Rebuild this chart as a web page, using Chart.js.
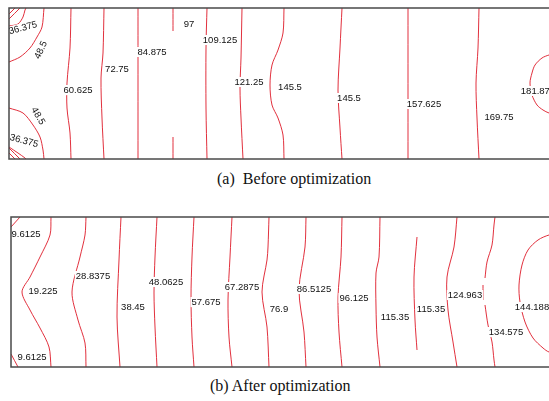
<!DOCTYPE html>
<html>
<head>
<meta charset="utf-8">
<script src="https://cdn.jsdelivr.net/npm/chart.js@4.4.1/dist/chart.umd.min.js"></script>
<style>
  html, body { margin: 0; padding: 0; background: #fff; overflow: hidden; width: 549px; height: 401px; }
  canvas { position: absolute; }
  #chartA { left: 4px; top: 3px; }
  #chartB { left: 6px; top: 212px; }
  .cap { position: absolute; font-family: "Liberation Serif", serif; font-size: 16px; line-height: 18px; color: #111; white-space: pre; }
</style>
</head>
<body>
<canvas id="chartA" width="570" height="161"></canvas>
<canvas id="chartB" width="570" height="160"></canvas>
<div class="cap" style="left:217px; top:170px;">(a)  Before optimization</div>
<div class="cap" style="left:210px; top:377px;">(b) After optimization</div>
<script>
// panel (a) before optimization: contour lines, x along length, y down from top edge
const linesA = [
  [[0,11],[11,0]],
  [[0,6],[6,0]],
  [[0,140],[11,151]],
  [[0,145],[6,151]],
  [[0,18],[9,16],[14,9],[16,2],[17,0]],
  [[0,139],[9,145],[16,150],[17,151]],
  [[35,0],[33,19],[28,29],[21,40],[11,49],[0,54]],
  [[0,100],[14,105],[24,117],[31,129],[34,142],[35,151]],
  [[62,0],[61,40],[58,75],[58,100],[61,125],[62,151]],
  [[95,0],[94,45],[92,70],[93,110],[95,151]],
  [[129,0],[129,75],[129,151]],
  [[164,0],[164,23]],
  [[164,129],[164,151]],
  [[198,0],[197,40],[197,100],[198,151]],
  [[233,0],[232,50],[231,80],[232,110],[234,151]],
  [[275,0],[274,25],[269,42],[263,57],[261,77],[263,97],[269,110],[274,127],[275,151]],
  [[333,0],[331,40],[329,82],[331,120],[333,151]],
  [[399,0],[399,151]],
  [[470,0],[469,40],[467,75],[468,110],[470,151]],
  [[552,44],[540,47],[533,50],[526,57],[523,65],[521,75],[523,87],[528,97],[534,102],[540,105],[552,108]]
];
const labelTextA = ['36.375', '36.375', '48.5', '48.5', '60.625', '72.75', '84.875', '97', '109.125', '121.25', '145.5', '145.5', '157.625', '169.75', '181.875'];
const labelAtA = [[14,20],[15,133],[32,42],[29,108],[69,82],[108,61],[143,44],[180,16],[211,32],[240,74],[281,79],[340,90],[415,96],[490,109],[529,83]];
const labelRotA = [-15, 15, -65, 60, 0, 0, 0, 0, 0, 0, 0, 0, 0, 0, 0];

// panel (b) after optimization
const linesB = [
  [[0,10],[9,0]],
  [[0,137],[7,150]],
  [[40,0],[39,18],[29,40],[19,60],[11,75],[19,93],[29,111],[38,130],[40,150]],
  [[75,0],[74,18],[69,40],[61,75],[67,103],[74,126],[75,150]],
  [[110,0],[108,43],[106,100],[109,150]],
  [[146,0],[144,40],[143,76],[144,110],[146,150]],
  [[183,0],[181,40],[180,81],[181,120],[183,150]],
  [[221,0],[219,40],[217,83],[218,120],[221,150]],
  [[258,0],[257,30],[256,43],[251,75],[256,110],[258,150]],
  [[295,0],[294,30],[288,73],[293,115],[295,150]],
  [[331,0],[330,40],[327,80],[328,115],[331,150]],
  [[369,0],[368,40],[365,56],[365,90],[366,120],[369,150]],
  [[406,20],[403,60],[404,103],[406,133]],
  [[446,0],[443,30],[436,60],[437,93],[442,125],[446,150]],
  [[484,0],[483,8],[481,28],[476,45],[474,61]],
  [[472,68],[472,83]],
  [[474,88],[477,108],[481,125],[483,143],[484,150]],
  [[550,16],[538,18],[527,23],[517,33],[511,48],[508,68],[509,85],[514,105],[522,121],[532,131],[538,135],[550,137]]
];
const labelTextB = ['9.6125', '9.6125', '19.225', '28.8375', '38.45', '48.0625', '57.675', '67.2875', '76.9', '86.5125', '96.125', '115.35', '115.35', '124.963', '134.575', '144.188'];
const labelAtB = [[15,17],[21,140],[32,74],[82,59],[122,90],[155,65],[195,85],[231,70],[268,92],[303,72],[343,81],[384,100],[420,92],[454,78],[495,115],[521,90]];
const labelRotB = labelTextB.map(() => 0);

const lineColor = 'rgba(222,25,40,0.9)';

function makeDatasets(lines) {
  return lines.map(l => ({
    data: l.map(p => ({ x: p[0], y: p[1] })),
    borderColor: lineColor,
    borderWidth: 1,
    pointRadius: 0,
    tension: 0.3,
    fill: false
  }));
}

// draws the contour value labels and the frame
const contourLabels = {
  id: 'contourLabels',
  afterDatasetsDraw(chart, args, opts) {
    const ctx = chart.ctx, a = chart.chartArea;
    const xs = chart.scales.x, ys = chart.scales.y;
    ctx.save();
    ctx.beginPath();
    ctx.rect(a.left, a.top, a.right - a.left, a.bottom - a.top);
    ctx.clip();
    ctx.font = '9.5px "Liberation Sans", Arial, sans-serif';
    ctx.textAlign = 'center';
    ctx.textBaseline = 'middle';
    opts.text.forEach((t, i) => {
      const px = xs.getPixelForValue(opts.at[i][0]);
      const py = ys.getPixelForValue(opts.at[i][1]);
      const w = ctx.measureText(t).width;
      ctx.save();
      ctx.translate(px, py);
      ctx.rotate(opts.rot[i] * Math.PI / 180);
      ctx.fillStyle = '#fff';
      ctx.fillRect(-w / 2 - 1, -5, w + 2, 10);
      ctx.fillStyle = '#111';
      ctx.fillText(t, 0, 0);
      ctx.restore();
    });
    ctx.restore();
    ctx.save();
    ctx.strokeStyle = '#4a4a4a';
    ctx.lineWidth = 1.5;
    ctx.strokeRect(a.left, a.top, a.right - a.left, a.bottom - a.top);
    ctx.restore();
  }
};

function makeChart(id, lines, text, at, rot, ymax) {
  return new Chart(document.getElementById(id), {
    type: 'line',
    data: { datasets: makeDatasets(lines) },
    plugins: [contourLabels],
    options: {
      responsive: false,
      animation: false,
      layout: { padding: 5 },
      scales: {
        x: { type: 'linear', min: 0, max: 560, display: false },
        y: { type: 'linear', min: 0, max: ymax, reverse: true, display: false }
      },
      plugins: {
        legend: { display: false },
        tooltip: { enabled: false },
        contourLabels: { text: text, at: at, rot: rot }
      }
    }
  });
}

makeChart('chartA', linesA, labelTextA, labelAtA, labelRotA, 151);
makeChart('chartB', linesB, labelTextB, labelAtB, labelRotB, 150);
</script>
</body>
</html>
